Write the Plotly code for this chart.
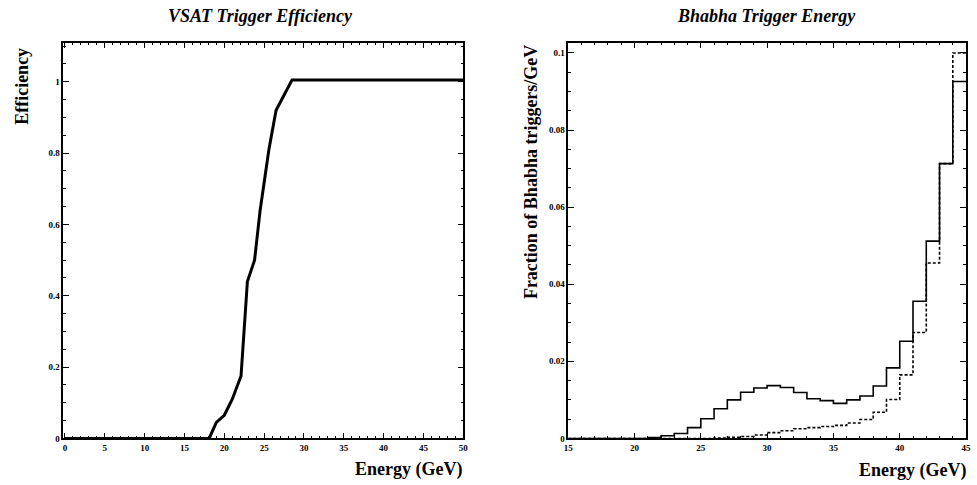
import plotly.graph_objects as go

# ---- Data ----
# Left panel: VSAT trigger efficiency vs energy
eff_energy = [0, 18.1, 19.0, 20.0, 21.0, 22.1, 22.9, 23.8, 24.5, 25.6, 26.5, 28.5, 50]
eff_value = [0, 0, 0.045, 0.065, 0.11, 0.175, 0.44, 0.50, 0.64, 0.81, 0.92, 1.005, 1.005]

# Right panel: Bhabha trigger energy histograms (1 GeV bins from 15 to 45)
bin_edges = list(range(15, 46))
hist_solid = [0, 0, 0, 0, 0, 0, 0.0002, 0.0007, 0.0013, 0.0028,
              0.0051, 0.0077, 0.0100, 0.0120, 0.0131, 0.0137, 0.0132, 0.0119, 0.0103, 0.0098,
              0.0091, 0.0100, 0.0110, 0.0136, 0.0183, 0.0252, 0.0356, 0.0512, 0.0713, 0.0926]
hist_dotted = [0, 0, 0, 0, 0, 0, 0, 0, 0, 0,
               0, 0.0001, 0.0003, 0.0005, 0.0009, 0.0015, 0.0020, 0.0025, 0.0028, 0.0031,
               0.0034, 0.0040, 0.0049, 0.0068, 0.0101, 0.0165, 0.0275, 0.0455, 0.0713, 0.1000]

left_xticks = list(range(0, 51, 5))
left_yticks = [0, 0.2, 0.4, 0.6, 0.8, 1]
right_xticks = list(range(15, 46, 5))
right_yticks = [0, 0.02, 0.04, 0.06, 0.08, 0.1]
right_yticklabels = ["0", "0.02", "0.04", "0.06", "0.08", "0.1"]

FONT = "Liberation Serif, Times New Roman, serif"
W, H = 977, 485

fig = go.Figure()

fig.add_trace(go.Scatter(x=eff_energy, y=eff_value, mode="lines",
                         line=dict(color="black", width=3), xaxis="x", yaxis="y",
                         showlegend=False, hoverinfo="skip"))

fig.add_trace(go.Scatter(x=bin_edges, y=hist_dotted + [hist_dotted[-1]], mode="lines",
                         line=dict(color="black", width=1.6, shape="hv", dash="3px,2px"),
                         xaxis="x2", yaxis="y2", showlegend=False, hoverinfo="skip"))
fig.add_trace(go.Scatter(x=bin_edges, y=hist_solid + [hist_solid[-1]], mode="lines",
                         line=dict(color="black", width=1.6, shape="hv"),
                         xaxis="x2", yaxis="y2", showlegend=False, hoverinfo="skip"))

def ax(**kw):
    base = dict(showline=True, linecolor="black", linewidth=1.5, mirror="allticks",
                ticks="inside", ticklen=6, tickwidth=1.2, tickcolor="black",
                showgrid=False, zeroline=False, fixedrange=True,
                tickfont=dict(family=FONT, size=9, color="black", weight="bold"))
    base.update(kw)
    return base

yb, yt = 1 - 443 / H, 1 - 43 / H
fig.update_layout(
    width=W, height=H,
    margin=dict(l=0, r=0, t=0, b=0),
    paper_bgcolor="white", plot_bgcolor="white",
    xaxis=ax(domain=[59 / W, 463 / W], range=[-0.2, 50], tickvals=left_xticks,
             minor=dict(dtick=1, ticks="inside", ticklen=3, tickcolor="black"),
             anchor="y"),
    yaxis=ax(domain=[yb, yt], range=[0, 1.11], tickvals=left_yticks,
             minor=dict(dtick=0.05, ticks="inside", ticklen=3, tickcolor="black"),
             anchor="x"),
    xaxis2=ax(domain=[569 / W, 971 / W], range=[15, 45], tickvals=right_xticks,
              minor=dict(dtick=1, ticks="inside", ticklen=3, tickcolor="black"),
              anchor="y2"),
    yaxis2=ax(domain=[yb, yt], range=[0, 0.1027], tickvals=right_yticks,
              ticktext=right_yticklabels,
              minor=dict(dtick=0.005, ticks="inside", ticklen=3, tickcolor="black"),
              anchor="x2"),
)

annots = [
    dict(text="<b><i>VSAT Trigger Efficiency</i></b>", x=258 / W, y=1 - 16 / H,
         xanchor="center", yanchor="middle", font=dict(size=18)),
    dict(text="<b><i>Bhabha Trigger Energy</i></b>", x=769 / W, y=1 - 16 / H,
         xanchor="center", yanchor="middle", font=dict(size=18)),
    dict(text="<b>Energy (GeV)</b>", x=464 / W, y=1 - 474 / H,
         xanchor="right", yanchor="middle", font=dict(size=18)),
    dict(text="<b>Energy (GeV)</b>", x=973 / W, y=1 - 475 / H,
         xanchor="right", yanchor="middle", font=dict(size=18)),
    dict(text="<b>Efficiency</b>", x=17 / W, y=1 - 46 / H, textangle=-90,
         xanchor="center", yanchor="top", font=dict(size=18)),
    dict(text="<b>Fraction of Bhabha triggers/GeV</b>", x=531 / W, y=1 - 44 / H,
         textangle=-90, xanchor="center", yanchor="top", font=dict(size=18)),
]
for a in annots:
    a.update(xref="paper", yref="paper", showarrow=False)
    a["font"].update(family=FONT, color="black")
    fig.add_annotation(**a)

fig.write_html("out.html")
